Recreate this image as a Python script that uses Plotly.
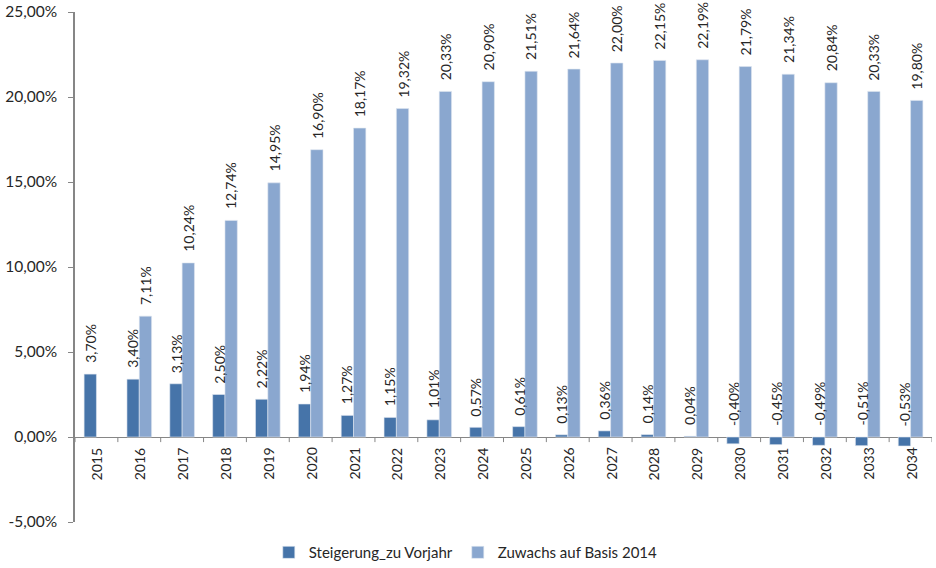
import plotly.graph_objects as go

years = [str(y) for y in range(2015, 2035)]
steigerung = [3.70, 3.40, 3.13, 2.50, 2.22, 1.94, 1.27, 1.15, 1.01, 0.57,
              0.61, 0.13, 0.36, 0.14, 0.04, -0.40, -0.45, -0.49, -0.51, -0.53]
zuwachs = [None, 7.11, 10.24, 12.74, 14.95, 16.90, 18.17, 19.32, 20.33, 20.90,
           21.51, 21.64, 22.00, 22.15, 22.19, 21.79, 21.34, 20.84, 20.33, 19.80]
y_ticks = [-5, 0, 5, 10, 15, 20, 25]
y_ticktext = ["-5,00%", "0,00%", "5,00%", "10,00%", "15,00%", "20,00%", "25,00%"]

DARK = "#4674a9"
LIGHT = "#8aa7cf"
AXIS = "#868686"
TXT = "#262626"
FONT = "Lato"

def fmt(v):
    return f"{v:.2f}".replace(".", ",") + "%"

fig = go.Figure()
fig.add_bar(x=years, y=steigerung, name="Steigerung_zu Vorjahr",
            marker=dict(color=DARK, line=dict(color="#dfe6f0", width=0.6)))
fig.add_bar(x=years, y=zuwachs, name="Zuwachs auf Basis 2014",
            marker=dict(color=LIGHT, line=dict(color="#dfe6f0", width=0.6)))

shift = 6.2
for i, yr in enumerate(years):
    for vals, xs in ((steigerung, -shift), (zuwachs, shift)):
        v = vals[i]
        if v is None:
            continue
        fig.add_annotation(x=i, y=max(v, 0), xref="x", yref="y",
                           xshift=xs, yshift=9, text=fmt(v), textangle=-90,
                           showarrow=False, yanchor="bottom", xanchor="center",
                           font=dict(family=FONT, size=14, color=TXT))
    fig.add_annotation(x=i, y=0, xref="x", yref="y", yshift=-9,
                       text=yr, textangle=-90, showarrow=False,
                       yanchor="top", xanchor="center",
                       font=dict(family=FONT, size=14, color=TXT))

for i in range(len(years) + 1):
    fig.add_shape(type="line", xref="x", yref="y", x0=i - 0.5, x1=i - 0.5,
                  y0=0, y1=-0.3, line=dict(color=AXIS, width=1))

fig.update_layout(
    width=936, height=568,
    margin=dict(l=75, r=4, t=12, b=46, autoexpand=False),
    paper_bgcolor="white", plot_bgcolor="white",
    barmode="group", bargap=0.425, bargroupgap=0,
    font=dict(family=FONT, size=14, color=TXT),
    legend=dict(orientation="h", x=0.456, xanchor="center", y=-0.06, yanchor="middle",
                font=dict(family=FONT, size=15, color=TXT), traceorder="normal"),
    xaxis=dict(showticklabels=False, showgrid=False, zeroline=False,
               range=[-0.5, len(years) - 0.5], showline=False, automargin=False),
    yaxis=dict(range=[-5, 25], tickvals=y_ticks, ticktext=y_ticktext,
               showgrid=False, zeroline=True, zerolinecolor=AXIS, zerolinewidth=1,
               showline=True, linecolor=AXIS, linewidth=1.5, ticks="outside",
               ticklen=5, tickcolor=AXIS, automargin=False, ticklabelstandoff=8,
               tickfont=dict(family=FONT, size=15.5, color=TXT)),
)

fig.write_html("out.html", config={"displayModeBar": False},
               post_script="document.body.style.margin='0';")
